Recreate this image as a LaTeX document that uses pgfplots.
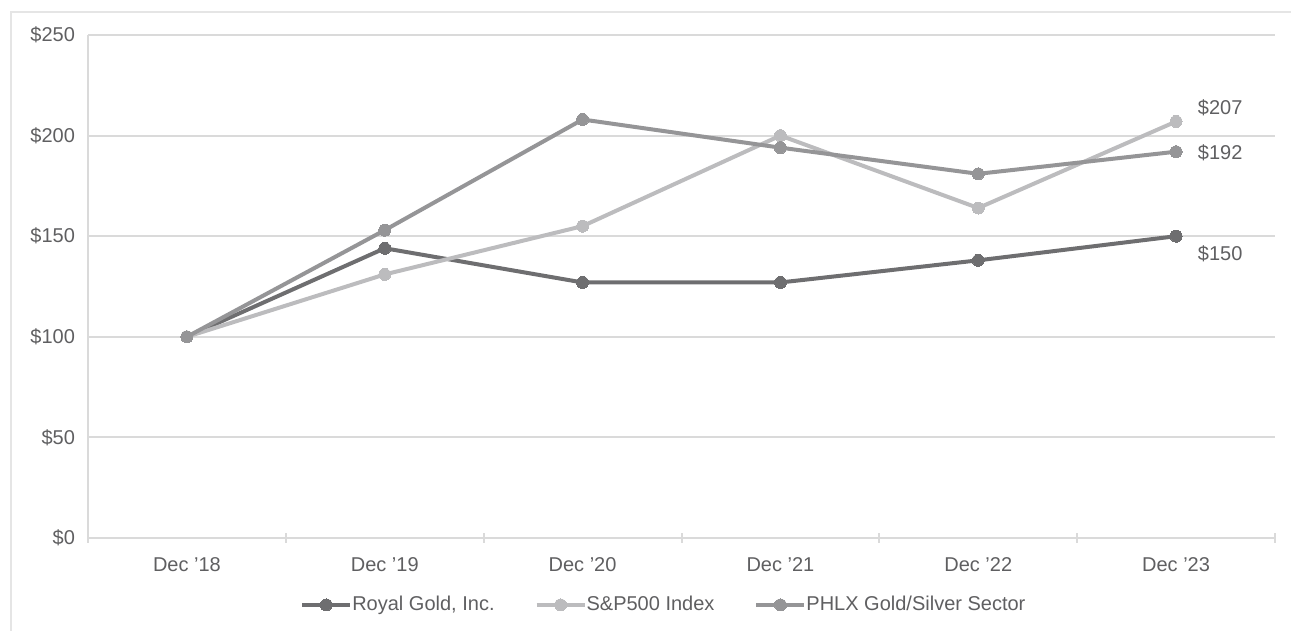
\documentclass[border=0pt]{standalone}
\usepackage{pgfplots}
\pgfplotsset{compat=1.18}
\usepackage{fontspec}
\setmainfont{Liberation Sans}
\definecolor{rgold}{HTML}{6E6E70}
\definecolor{spx}{HTML}{BCBCBE}
\definecolor{phlx}{HTML}{959597}
\definecolor{txt}{HTML}{5F5F61}
\definecolor{gridc}{HTML}{DADADA}

\begin{document}
\begin{tikzpicture}
\path[use as bounding box] (0,0) rectangle (645.5pt,315.5pt);
\draw[gridc!70, line width=0.8pt] (5.5pt,0) -- (5.5pt,309.5pt) -- (645.5pt,309.5pt);
\begin{axis}[
	scale only axis,
	width=593.5pt, height=251.5pt,
	at={(44pt,46.5pt)}, anchor=south west,
	font=\fontsize{10pt}{12pt}\selectfont,
	xmin=-0.5, xmax=5.5,
	ymin=0, ymax=250,
	axis x line*=bottom, axis y line*=left,
	axis line style={-, draw=gridc, line width=1pt},
	xtick={0,1,2,3,4,5},
	xticklabels={Dec '18, Dec '19, Dec '20, Dec '21, Dec '22, Dec '23},
	minor xtick={-0.5,0.5,1.5,2.5,3.5,4.5,5.5},
	major tick length=0pt,
	minor tick length=5pt,
	tick align=center,
	minor tick style={draw=gridc, line width=1pt},
	ytick={0,50,100,150,200,250},
	yticklabels={\$0,\$50,\$100,\$150,\$200,\$250},
	ymajorgrids=true,
	grid style={draw=gridc, line width=1pt},
	tick label style={text=txt},
	xticklabel style={yshift=-6pt},
	yticklabel style={xshift=-3pt},
	legend style={at={(0.486,-0.133)}, anchor=center, draw=none, fill=none,
		legend columns=3, text=txt, font=\fontsize{10pt}{12pt}\selectfont,
		/tikz/every even column/.append style={column sep=18pt},
		/tikz/every odd column/.append style={column sep=-2pt}},
	legend cell align=left,
	legend image code/.code={\draw[#1, mark repeat=2, mark phase=2] plot coordinates {(0pt,0pt)(12pt,0pt)(24pt,0pt)};},
	every axis plot/.append style={line width=2pt, mark=*, mark size=3pt},
]
\addplot[color=rgold, mark options={fill=rgold, draw=rgold, line width=0pt}] coordinates {
	(0,100)(1,144)(2,127)(3,127)(4,138)(5,150)
};
\addlegendentry{Royal Gold, Inc.}
\addplot[color=spx, mark options={fill=spx, draw=spx, line width=0pt}] coordinates {
	(0,100)(1,131)(2,155)(3,200)(4,164)(5,207)
};
\addlegendentry{S\&P500 Index}
\addplot[color=phlx, mark options={fill=phlx, draw=phlx, line width=0pt}] coordinates {
	(0,100)(1,153)(2,208)(3,194)(4,181)(5,192)
};
\addlegendentry{PHLX Gold/Silver Sector}
\node[anchor=west, text=txt] at (axis cs:5.075,213.7) {\$207};
\node[anchor=west, text=txt] at (axis cs:5.075,191.3) {\$192};
\node[anchor=west, text=txt] at (axis cs:5.075,141.2) {\$150};
\end{axis}
\end{tikzpicture}
\end{document}
